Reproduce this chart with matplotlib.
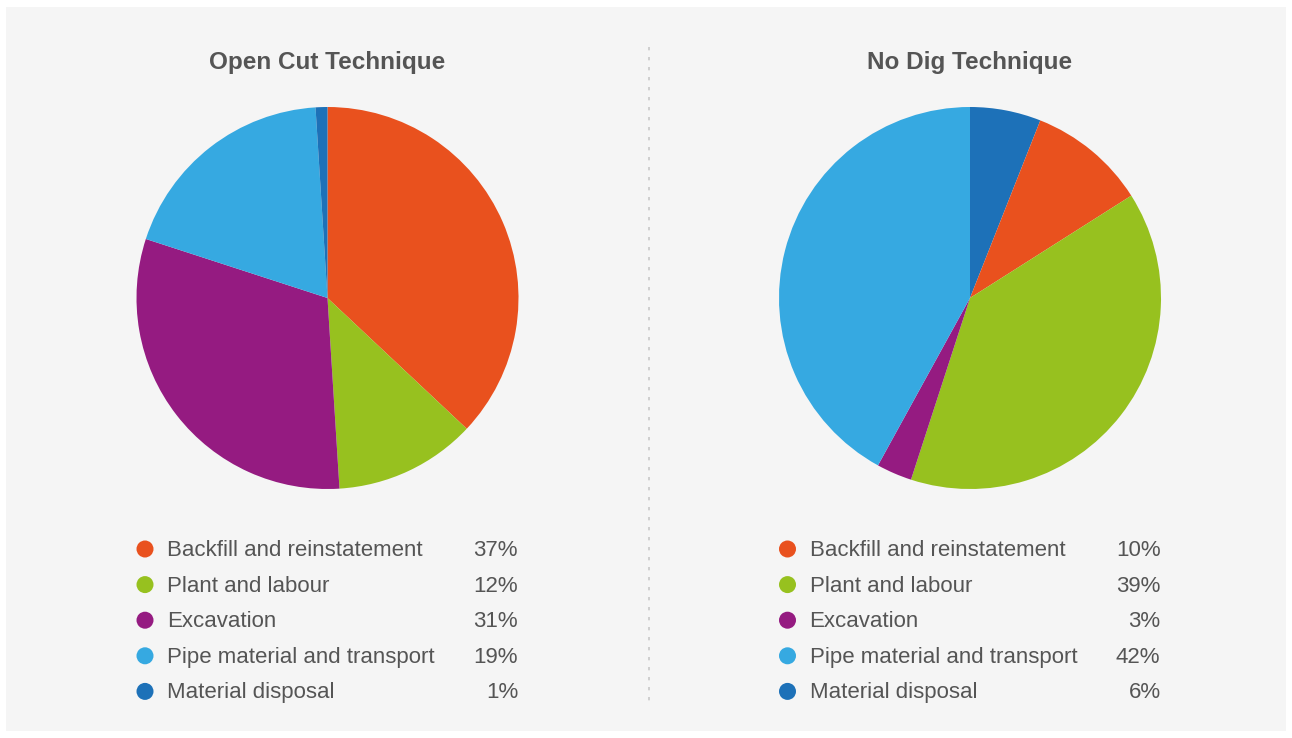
import matplotlib
matplotlib.use("Agg")
import matplotlib.pyplot as plt
from matplotlib.patches import Rectangle

plt.rcParams['font.family'] = ['Liberation Sans', 'DejaVu Sans']

titles = ["Open Cut Technique", "No Dig Technique"]
categories = ["Backfill and reinstatement", "Plant and labour", "Excavation",
              "Pipe material and transport", "Material disposal"]
colors = ["#E9511E", "#97C11F", "#951B81", "#36A9E1", "#1D71B8"]
open_cut = [37, 12, 31, 19, 1]
no_dig = [10, 39, 3, 42, 6]
# drawing order (clockwise from 12 o'clock) as seen in the chart
open_cut_order = [0, 1, 2, 3, 4]
no_dig_order = [4, 0, 1, 2, 3]

W, H = 1292, 738
fig = plt.figure(figsize=(W / 100, H / 100), dpi=100)
fig.patch.set_facecolor("white")

bg = fig.add_axes([0, 0, 1, 1])
bg.set_xlim(0, W)
bg.set_ylim(H, 0)
bg.axis("off")
bg.add_patch(Rectangle((6, 7), 1280, 724, facecolor="#F5F5F5", edgecolor="none"))
bg.plot([649, 649], [47, 702], color="#C8C8C8", lw=1.2, ls=(0, (2, 4)))

centers = [327.5, 970]
radius = 191
cy = 298
datasets = [open_cut, no_dig]
orders = [open_cut_order, no_dig_order]

for cx, title, vals, order in zip(centers, titles, datasets, orders):
    bg.text(cx, 62.5, title, ha="center", va="center", fontsize=17.5,
            fontweight="bold", color="#555555")
    ax = fig.add_axes([(cx - radius) / W, 1 - (cy + radius) / H,
                       2 * radius / W, 2 * radius / H])
    ax.pie([vals[i] for i in order], colors=[colors[i] for i in order],
           startangle=90, counterclock=False, radius=1,
           wedgeprops=dict(linewidth=0))
    ax.set_xlim(-1, 1)
    ax.set_ylim(-1, 1)
    ax.set_aspect("equal")
    ax.axis("off")

    lx = cx - 182.5
    for k, (cat, v, c) in enumerate(zip(categories, vals, colors)):
        y = 549 + k * 35.6
        bg.scatter([lx], [y], s=150, color=c, edgecolors="none")
        bg.text(lx + 22, y + 1.5, cat, ha="left", va="center", fontsize=16,
                color="#555555")
        bg.text(cx + 190.5, y + 1.5, f"{v}%", ha="right", va="center",
                fontsize=16, color="#555555")

fig.savefig("out.png", dpi=100, facecolor="white")
